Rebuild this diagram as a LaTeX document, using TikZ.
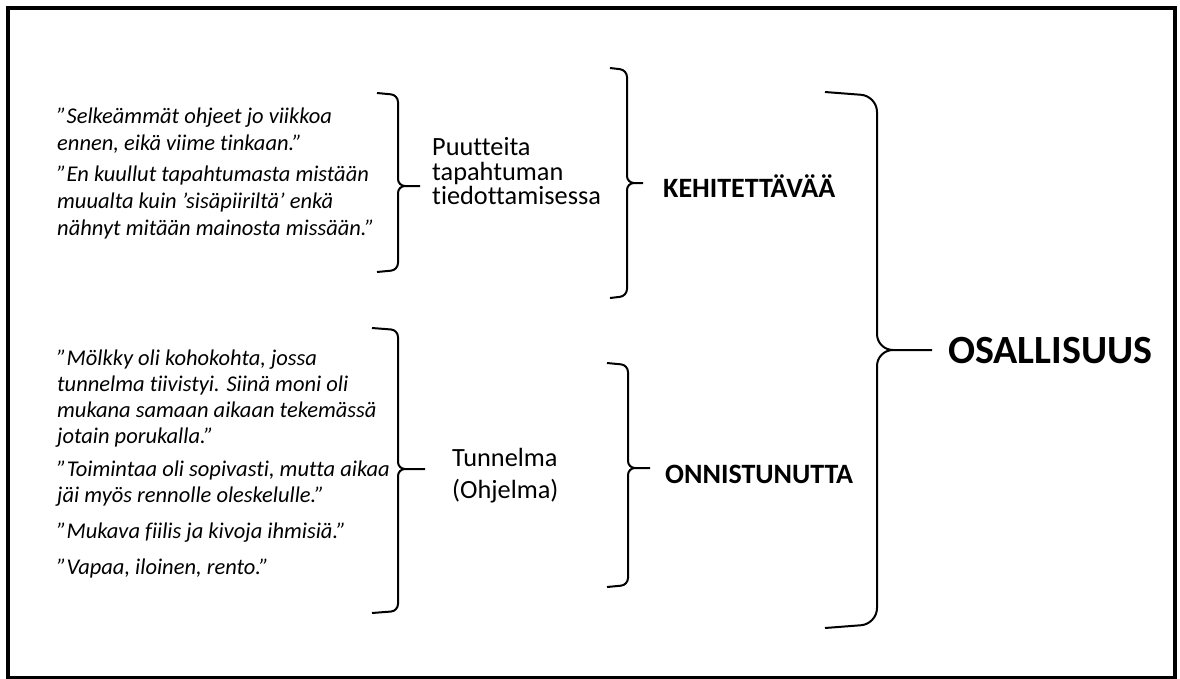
\documentclass[tikz,border=0pt]{standalone}
\usepackage{fontspec}
\setmainfont{Carlito}[Ligatures={NoCommon}]

\begin{document}
\begin{tikzpicture}[x=1pt, y=-1pt,
    quote/.style={anchor=base west, inner sep=0pt,
                  font=\fontsize{22.5}{27}\selectfont\itshape},
    topic/.style={anchor=base west, inner sep=0pt,
                  font=\fontsize{26.3}{30}\selectfont},
    verdict/.style={anchor=base west, inner sep=0pt,
                  font=\fontsize{28}{32}\selectfont\bfseries},
    brace line/.style={line width=2pt, rounded corners=7pt}]

    \useasboundingbox (0, 0) rectangle (1180, 678);

    % Frame
    \draw [line width=4pt] (8, 8) rectangle (1175, 677.5);

    % Quotes, upper group
    \foreach \y/\txt [count=\i] in {123/{”Selkeämmät ohjeet jo viikkoa},
                                   150/{ennen, eikä viime tinkaan.”},
                                   181/{”En kuullut tapahtumasta mistään},
                                   208/{muualta kuin ’sisäpiiriltä’ enkä},
                                   235/{nähnyt mitään mainosta missään.”}}
      \node [quote] (neg-\i) at (57, \y) {\txt};

    % Quotes, lower group
    \foreach \y/\txt [count=\i] in {365/{”Mölkky oli kohokohta, jossa},
                                   391/{tunnelma tiivistyi. Siinä moni oli},
                                   417/{mukana samaan aikaan tekemässä},
                                   443/{jotain porukalla.”},
                                   476/{”Toimintaa oli sopivasti, mutta aikaa},
                                   502/{jäi myös rennolle oleskelulle.”},
                                   538/{”Mukava fiilis ja kivoja ihmisiä.”},
                                   574/{”Vapaa, iloinen, rento.”}}
      \node [quote] (pos-\i) at (57, \y) {\txt};

    % Topics
    \node [topic] (puute-1) at (432, 155) {Puutteita};
    \node [topic] (puute-2) at (432, 180) {tapahtuman};
    \node [topic] (puute-3) at (432, 204) {tiedottamisessa};

    \node [topic] (tunnelma-1) at (452, 466) {Tunnelma};
    \node [topic] (tunnelma-2) at (452, 498) {(Ohjelma)};

    % Verdicts
    \node [verdict] (kehit) at (663, 197) {KEHITETTÄVÄÄ};
    \node [verdict] (onnist) at (665, 483) {ONNISTUNUTTA};

    % Result
    \node [verdict, font=\fontsize{40}{46}\selectfont\bfseries] (osall)
          at (948, 363) {OSALLISUUS};

    % Braces, quotes to topics
    \draw [brace line] (377, 93) -- (398, 95) -- (398, 186) -- (420, 186)
                       (377, 272) -- (398, 270) -- (398, 186) -- (420, 186);
    \draw [brace line] (372, 328) -- (398, 330) -- (398, 469) -- (425, 469)
                       (372, 613) -- (398, 611) -- (398, 469) -- (425, 469);

    % Braces, topics to verdicts
    \draw [brace line] (610, 68) -- (627, 70) -- (627, 183) -- (643, 183)
                       (610, 298) -- (627, 296) -- (627, 183) -- (643, 183);
    \draw [brace line] (607, 363) -- (628, 365) -- (628, 468) -- (650, 468)
                       (607, 587) -- (628, 585) -- (628, 468) -- (650, 468);

    % Brace, verdicts to result
    \draw [brace line, rounded corners=16pt]
          (825, 92) -- (877, 96) -- (877, 350) -- (932, 350)
          (825, 628) -- (877, 624) -- (877, 350) -- (932, 350);
  \end{tikzpicture}
\end{document}
